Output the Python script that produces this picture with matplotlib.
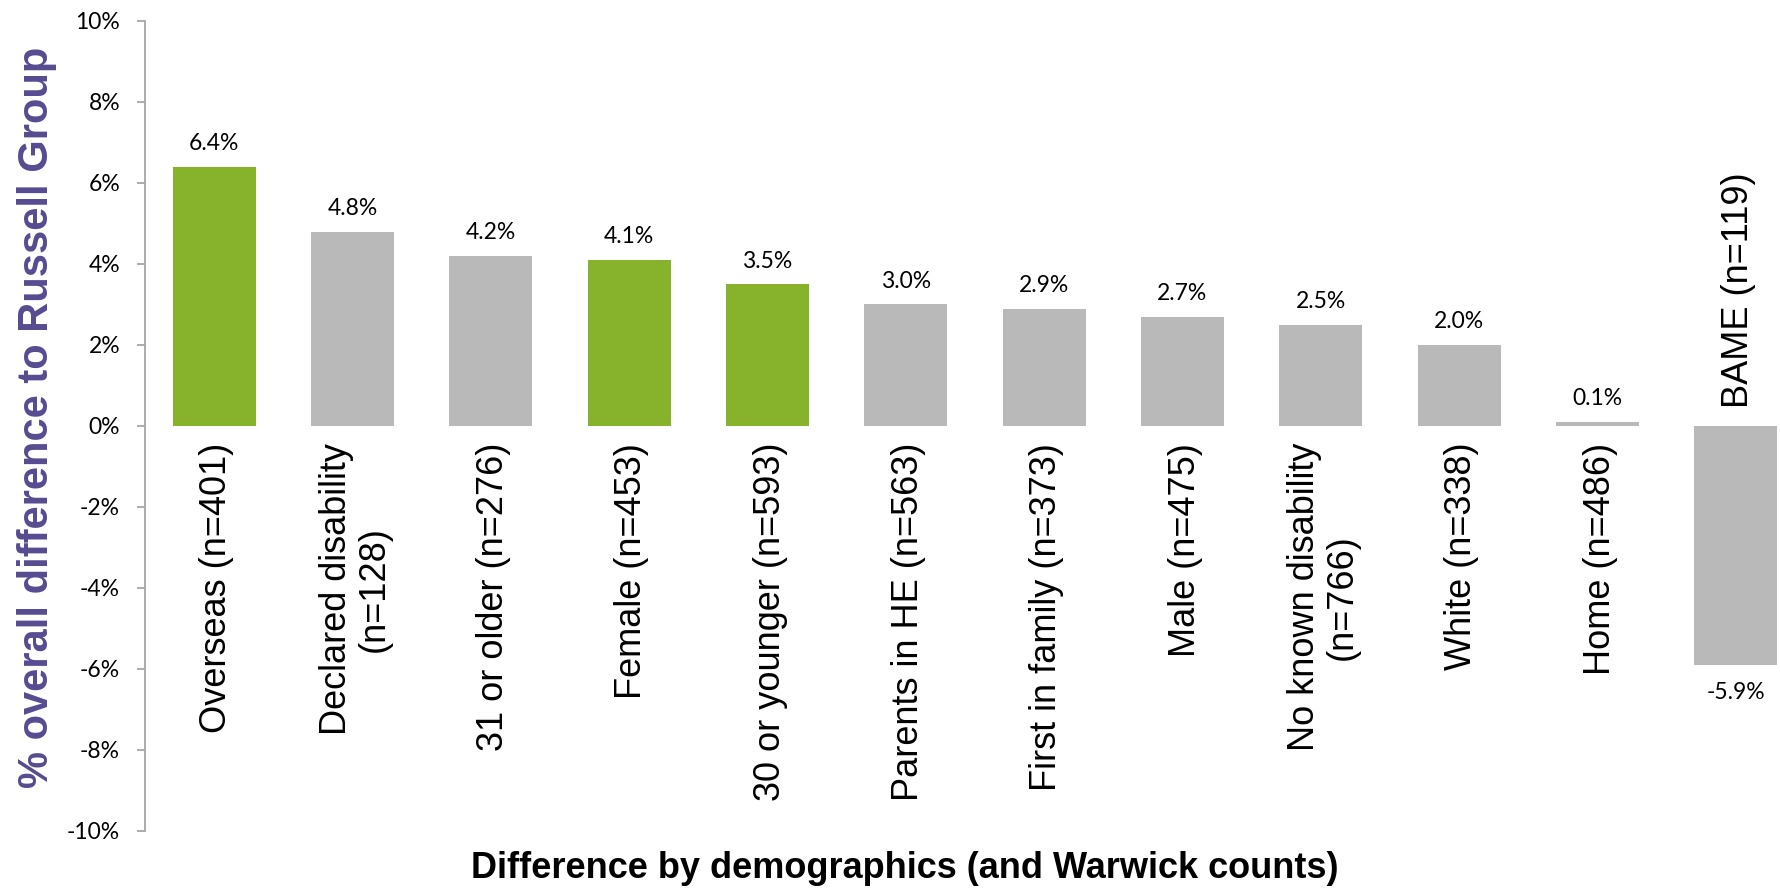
import numpy as np
import matplotlib
matplotlib.use("Agg")
import matplotlib.pyplot as plt

# Difference to Russell Group by demographic group
categories = [
    "Overseas (n=401)",
    "Declared disability\n(n=128)",
    "31 or older (n=276)",
    "Female (n=453)",
    "30 or younger (n=593)",
    "Parents in HE (n=563)",
    "First in family (n=373)",
    "Male (n=475)",
    "No known disability\n(n=766)",
    "White (n=338)",
    "Home (n=486)",
    "BAME (n=119)",
]
diff_pct = [6.4, 4.8, 4.2, 4.1, 3.5, 3.0, 2.9, 2.7, 2.5, 2.0, 0.1, -5.9]
highlight = [True, False, False, True, True, False, False, False, False, False, False, False]
y_ticks = [-10, -8, -6, -4, -2, 0, 2, 4, 6, 8, 10]

green = "#86B32B"
grey = "#B9B9B9"
purple = "#574B90"

fig = plt.figure(figsize=(17.8, 8.88), dpi=100)
# plot area runs past the right edge, so the last bar is cut off
ax = fig.add_axes([145 / 1780, 0.0642, 1660 / 1780, 0.9122])

x = np.arange(len(categories))
colors = [green if h else grey for h in highlight]
ax.bar(x, diff_pct, width=0.6, color=colors, zorder=2)

ax.set_xlim(-0.5, len(categories) - 0.5)
ax.set_ylim(-10, 10)
ax.set_yticks(y_ticks)
ax.set_yticklabels([f"{v}%" for v in y_ticks], fontfamily="Lato", fontsize=16.5)
ax.set_xticks([])

for side in ["top", "right", "bottom"]:
    ax.spines[side].set_visible(False)
ax.spines["left"].set_color("#A6A6A6")
ax.spines["left"].set_linewidth(1.3)
ax.tick_params(axis="y", direction="out", length=6, width=1.3, color="#A6A6A6", pad=12)

for xi, v, lab in zip(x, diff_pct, categories):
    # value label above positive bars, below negative ones
    if v >= 0:
        ax.annotate(f"{v:.1f}%", (xi, v), xytext=(0, 12), textcoords="offset points",
                    ha="center", va="baseline", fontfamily="Lato", fontsize=16.5)
        ax.annotate(lab, (xi, 0), xytext=(2, -12), textcoords="offset points",
                    ha="center", va="top", rotation=90, multialignment="center",
                    fontfamily="Liberation Sans", fontsize=26, linespacing=1.1)
    else:
        ax.annotate(f"{v:.1f}%", (xi, v), xytext=(0, -12), textcoords="offset points",
                    ha="center", va="top", fontfamily="Lato", fontsize=16.5)
        ax.annotate(lab, (xi, 0), xytext=(2, 13), textcoords="offset points",
                    ha="center", va="bottom", rotation=90,
                    fontfamily="Liberation Sans", fontsize=26)

fig.text(37 / 1780, 0.530, "% overall difference to Russell Group", rotation=90,
         ha="center", va="center", color=purple, fontweight="bold",
         fontfamily="Liberation Sans", fontsize=30)
fig.text(905 / 1780, 0.0214, "Difference by demographics (and Warwick counts)",
         ha="center", va="center", fontweight="bold",
         fontfamily="Liberation Sans", fontsize=26)

fig.savefig("out.png", dpi=100)
